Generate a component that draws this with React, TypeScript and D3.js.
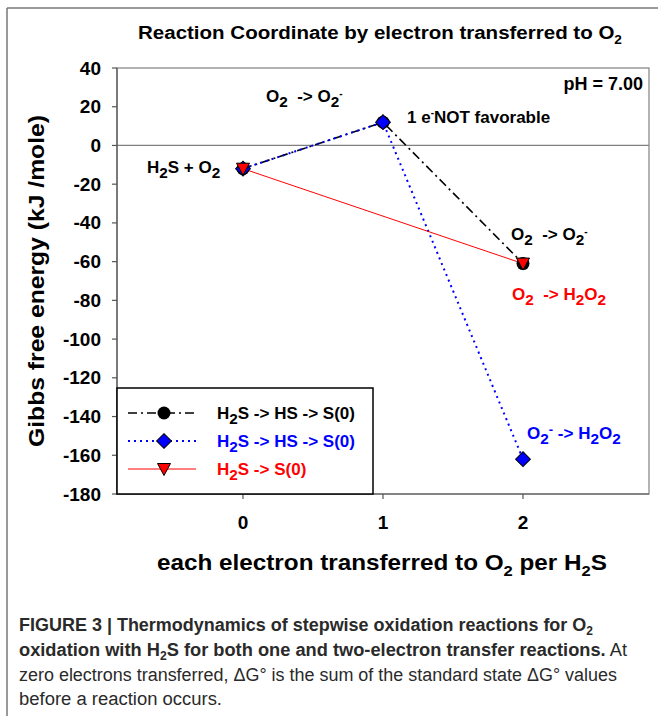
import React from 'react';
import * as d3 from 'd3';

// electrons transferred (x) and Gibbs energies (kJ/mole)
const electrons = [0, 1, 2];
const seriesOneE = [-12, 12, -61];      // black dash-dot, circles
const seriesOneEBlue = [-12, 12, -162]; // blue dotted, diamonds
const twoEx = [0, 2];
const seriesTwoE = [-12, -61];          // red solid, triangles
const yTicks = [40, 20, 0, -20, -40, -60, -80, -100, -120, -140, -160, -180];
const xTicks = [0, 1, 2];

const W = 658;
const H = 716;
const FONT = "'Liberation Sans', Arial, sans-serif";
const SP = '\u00a0\u00a0';

const x = d3.scaleLinear().domain([-0.9, 2.9]).range([117, 649]);
const y = d3.scaleLinear().domain([-180, 40]).range([494, 68]);

const diamond = d3.symbol().type(d3.symbolSquare).size(110)();
const triangle = 'M-6.5,-5.5L6.5,-5.5L0,6.5Z';

const Sub = ({ children }: { children: React.ReactNode }) => (
  <tspan dy={5} fontSize="0.9em">{children}</tspan>
);

const App: React.FC = () => {
  const line = d3.line<[number, number]>().x(d => x(d[0])).y(d => y(d[1]));
  const black = line(electrons.map((e, i) => [e, seriesOneE[i]]));
  const blue = line(electrons.map((e, i) => [e, seriesOneEBlue[i]]));
  const red = line(twoEx.map((e, i) => [e, seriesTwoE[i]]));

  return (
    <svg width={W} height={H} style={{ position: 'absolute', left: 0, top: 0, background: '#fff' }}
      fontFamily={FONT}>
      {/* figure frame */}
      <line x1={7} y1={8} x2={W} y2={8} stroke="#777" strokeWidth={1.5} />
      <line x1={7} y1={8} x2={7} y2={H} stroke="#777" strokeWidth={1.5} />

      <text x={380} y={39} textAnchor="middle" fontWeight="bold" fontSize={18} textLength={484}
        lengthAdjust="spacingAndGlyphs">
        Reaction Coordinate by electron transferred to O<tspan dy={5} fontSize={12}>2</tspan>
      </text>

      {/* plot box */}
      <rect x={117} y={68} width={532} height={426} fill="none" stroke="#808080" strokeWidth={1.2} />
      <line x1={117} x2={649} y1={y(0)} y2={y(0)} stroke="#808080" strokeWidth={1.2} />
      <line x1={117} x2={117} y1={68} y2={494} stroke="#555" strokeWidth={1.2} />
      <line x1={117} x2={649} y1={494} y2={494} stroke="#555" strokeWidth={1.2} />

      {yTicks.map(t => (
        <g key={t}>
          <line x1={112} x2={117} y1={y(t)} y2={y(t)} stroke="#555" strokeWidth={1.2} />
          <text x={101} y={y(t) + 6.5} textAnchor="end" fontWeight="bold" fontSize={19}>{t}</text>
        </g>
      ))}
      {xTicks.map(t => (
        <g key={t}>
          <line x1={x(t)} x2={x(t)} y1={494} y2={499} stroke="#555" strokeWidth={1.2} />
          <text x={x(t)} y={529} textAnchor="middle" fontWeight="bold" fontSize={19}>{t}</text>
        </g>
      ))}

      <text transform="translate(44,281) rotate(-90)" textAnchor="middle" fontWeight="bold" fontSize={22}
        textLength={332} lengthAdjust="spacingAndGlyphs">
        Gibbs free energy (kJ /mole)
      </text>
      <text x={382} y={570} textAnchor="middle" fontWeight="bold" fontSize={22} textLength={450}
        lengthAdjust="spacingAndGlyphs">
        each electron transferred to O<tspan dy={6} fontSize={15}>2</tspan><tspan dy={-6}> per H</tspan><tspan dy={6} fontSize={15}>2</tspan><tspan dy={-6}>S</tspan>
      </text>

      {/* series */}
      <path d={black ?? ''} fill="none" stroke="#000" strokeWidth={1.6} strokeDasharray="9,4,2,4" />
      <path d={blue ?? ''} fill="none" stroke="#0000ff" strokeWidth={2} strokeDasharray="2,4" />
      <path d={red ?? ''} fill="none" stroke="#ff0000" strokeWidth={1} />
      {electrons.map((e, i) => (
        <circle key={'c' + e} cx={x(e)} cy={y(seriesOneE[i])} r={6.5} fill="#000" />
      ))}
      {electrons.map((e, i) => (
        <path key={'d' + e} d={diamond} transform={`translate(${x(e)},${y(seriesOneEBlue[i])}) rotate(45)`}
          fill="#0000ff" stroke="#000" strokeWidth={1} />
      ))}
      {twoEx.map((e, i) => (
        <path key={'t' + e} d={triangle} transform={`translate(${x(e)},${y(seriesTwoE[i])})`}
          fill="#ff0000" stroke="#000" strokeWidth={1} />
      ))}

      {/* annotations */}
      <g fontWeight="bold" fontSize={17}>
        <text x={643} y={90} textAnchor="end" fontSize={18}>pH = 7.00</text>
        <text x={266} y={102}>O<Sub>2</Sub><tspan dy={-5}>{SP + '-> O'}</tspan><Sub>2</Sub><tspan dy={-10} fontSize={10}>-</tspan></text>
        <text x={407} y={123}>1 e<tspan dy={-7} fontSize={10}>-</tspan><tspan dy={7}>NOT favorable</tspan></text>
        <text x={147} y={173}>H<Sub>2</Sub><tspan dy={-5}>S + O</tspan><Sub>2</Sub></text>
        <text x={511} y={240}>O<Sub>2</Sub><tspan dy={-5}>{SP + '-> O'}</tspan><Sub>2</Sub><tspan dy={-10} fontSize={10}>-</tspan></text>
        <text x={512} y={300} fill="#ff0000">O<Sub>2</Sub><tspan dy={-5}>{SP + '-> H'}</tspan><Sub>2</Sub><tspan dy={-5}>O</tspan><Sub>2</Sub></text>
        <text x={527} y={439} fill="#0000ff">O<Sub>2</Sub><tspan dy={-10} fontSize={13}>-</tspan><tspan dy={5}>{' -> H'}</tspan><Sub>2</Sub><tspan dy={-5}>O</tspan><Sub>2</Sub></text>
      </g>

      {/* legend */}
      <rect x={117} y={388} width={256} height={106} fill="#fff" stroke="#000" strokeWidth={1.5} />
      <g fontWeight="bold" fontSize={17}>
        <line x1={128} x2={196} y1={413} y2={413} stroke="#000" strokeWidth={1.6} strokeDasharray="9,4,2,4" />
        <circle cx={164} cy={413} r={6.5} fill="#000" />
        <text x={217} y={419}>H<Sub>2</Sub><tspan dy={-5}>S -&gt; HS -&gt; S(0)</tspan></text>

        <line x1={128} x2={196} y1={441} y2={441} stroke="#0000ff" strokeWidth={2} strokeDasharray="2,4" />
        <path d={diamond} transform="translate(164,441) rotate(45)" fill="#0000ff" stroke="#000" strokeWidth={1} />
        <text x={217} y={447} fill="#0000ff">H<Sub>2</Sub><tspan dy={-5}>S -&gt; HS -&gt; S(0)</tspan></text>

        <line x1={128} x2={196} y1={469} y2={469} stroke="#ff0000" strokeWidth={1} />
        <path d={triangle} transform="translate(164,469)" fill="#ff0000" stroke="#000" strokeWidth={1} />
        <text x={217} y={475} fill="#ff0000">H<Sub>2</Sub><tspan dy={-5}>S -&gt; S(0)</tspan></text>
      </g>

      {/* caption */}
      <g fontSize={18} fill="#2a2a2a">
        <text x={19} y={631} fontWeight="bold" textLength={574} lengthAdjust="spacingAndGlyphs">FIGURE 3 | Thermodynamics of stepwise oxidation reactions for O<tspan dy={4} fontSize={12}>2</tspan></text>
        <text x={19} y={656} textLength={608} lengthAdjust="spacingAndGlyphs"><tspan fontWeight="bold">oxidation with H</tspan><tspan fontWeight="bold" dy={4} fontSize={12}>2</tspan><tspan fontWeight="bold" dy={-4}>S for both one and two-electron transfer reactions.</tspan> At</text>
        <text x={19} y={681} textLength={598} lengthAdjust="spacingAndGlyphs">zero electrons transferred, ΔG° is the sum of the standard state ΔG° values</text>
        <text x={19} y={705} textLength={203} lengthAdjust="spacingAndGlyphs">before a reaction occurs.</text>
      </g>
    </svg>
  );
};

export default App;
